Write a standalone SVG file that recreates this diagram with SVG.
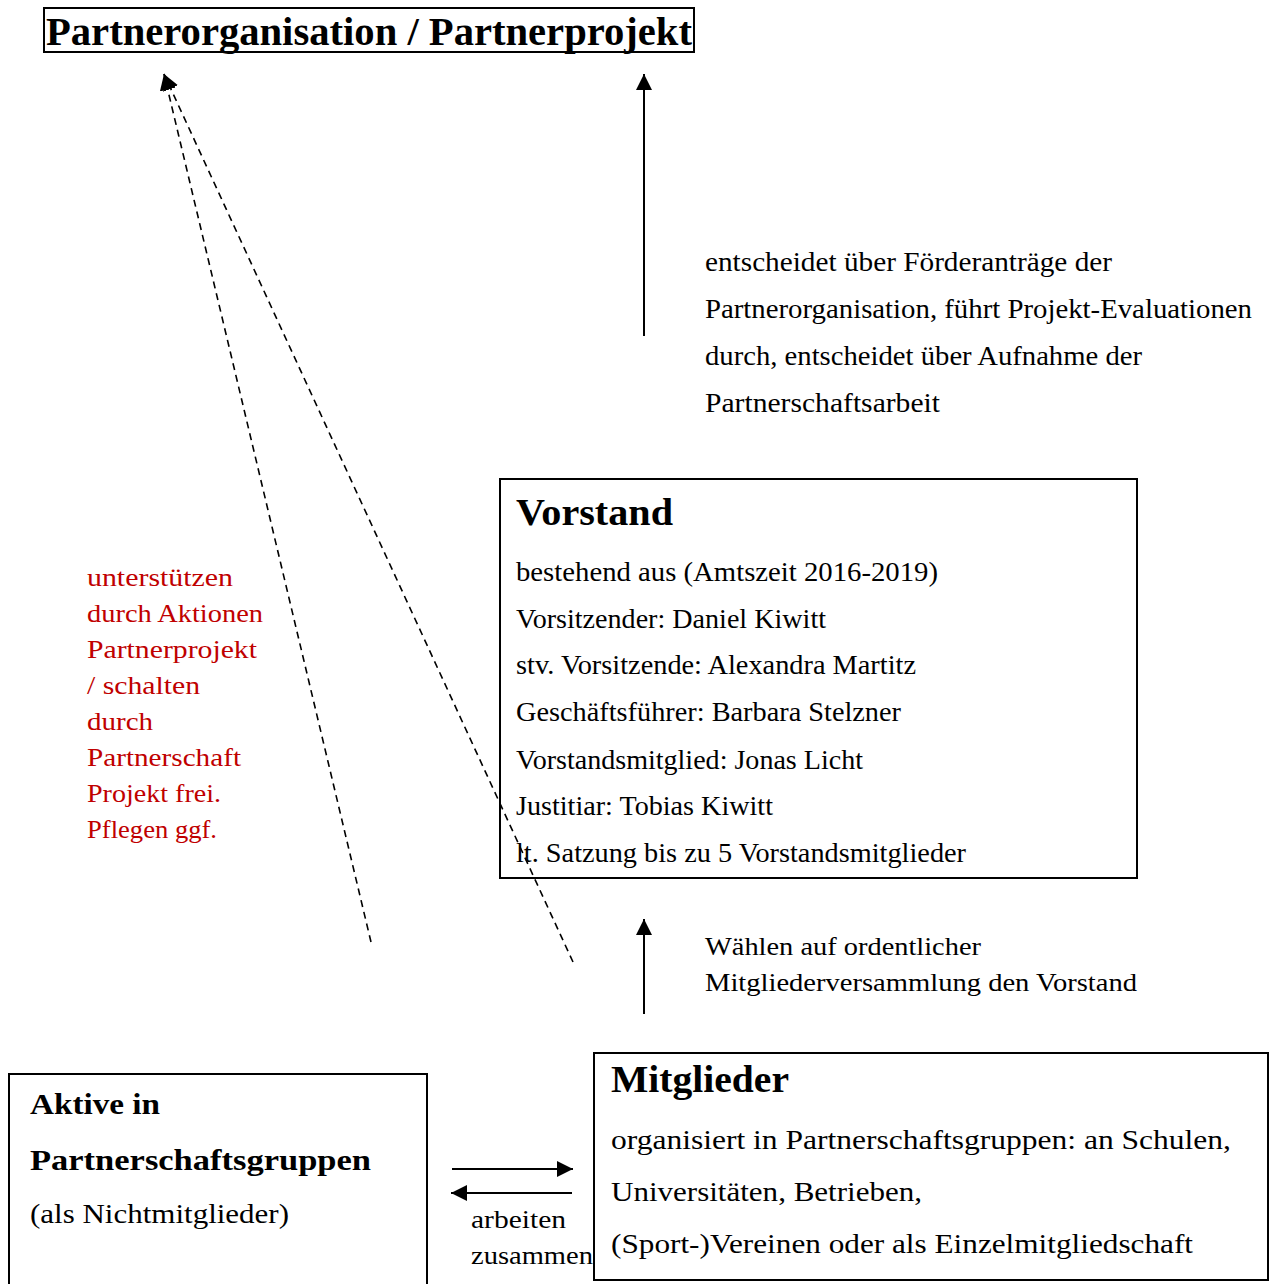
<svg xmlns="http://www.w3.org/2000/svg" width="1269" height="1284" viewBox="0 0 1269 1284">
<style>
  text { font-family: "Liberation Serif", "DejaVu Serif", serif; fill: #000; }
  .b { font-weight: bold; }
  .body { font-size: 27px; }
  .red { fill: #c00000; font-size: 25px; }
  .box { fill: #fff; stroke: #000; stroke-width: 2; }
  .solid { stroke: #000; stroke-width: 2; fill: none; }
  .dash { stroke: #000; stroke-width: 1.6; fill: none; stroke-dasharray: 7 5; }
</style>
<defs>
  <marker id="ah" markerUnits="userSpaceOnUse" markerWidth="18" markerHeight="16" refX="16" refY="8" orient="auto">
    <path d="M0,0 L16,8 L0,16 Z" fill="#000"/>
  </marker>
</defs>
<rect width="1269" height="1284" fill="#fff"/>

<g id="partnerorganisation">
  <rect class="box" x="44" y="8" width="650" height="44"/>
  <text class="b" x="46" y="45" font-size="40" textLength="646" lengthAdjust="spacingAndGlyphs">Partnerorganisation / Partnerprojekt</text>
</g>

<g id="label-entscheidet" class="body">
  <text x="705" y="271" textLength="407" lengthAdjust="spacingAndGlyphs">entscheidet über Förderanträge der</text>
  <text x="705" y="318" textLength="547" lengthAdjust="spacingAndGlyphs">Partnerorganisation, führt Projekt-Evaluationen</text>
  <text x="705" y="365" textLength="437" lengthAdjust="spacingAndGlyphs">durch, entscheidet über Aufnahme der</text>
  <text x="705" y="412" textLength="235" lengthAdjust="spacingAndGlyphs">Partnerschaftsarbeit</text>
</g>

<g id="label-unterstuetzen">
  <text class="red" x="87" y="586" textLength="146" lengthAdjust="spacingAndGlyphs">unterstützen</text>
  <text class="red" x="87" y="622" textLength="176" lengthAdjust="spacingAndGlyphs">durch Aktionen</text>
  <text class="red" x="87" y="658" textLength="170" lengthAdjust="spacingAndGlyphs">Partnerprojekt</text>
  <text class="red" x="87" y="694" textLength="113" lengthAdjust="spacingAndGlyphs">/ schalten</text>
  <text class="red" x="87" y="730" textLength="66" lengthAdjust="spacingAndGlyphs">durch</text>
  <text class="red" x="87" y="766" textLength="154" lengthAdjust="spacingAndGlyphs">Partnerschaft</text>
  <text class="red" x="87" y="802" textLength="134" lengthAdjust="spacingAndGlyphs">Projekt frei.</text>
  <text class="red" x="87" y="838" textLength="130" lengthAdjust="spacingAndGlyphs">Pflegen ggf.</text>
</g>

<g id="vorstand">
  <rect class="box" x="500" y="479" width="637" height="399"/>
  <text class="b" x="516" y="525" font-size="38" textLength="157" lengthAdjust="spacingAndGlyphs">Vorstand</text>
  <g class="body">
    <text x="516" y="581" textLength="422" lengthAdjust="spacingAndGlyphs">bestehend aus (Amtszeit 2016-2019)</text>
    <text x="516" y="628" textLength="310" lengthAdjust="spacingAndGlyphs">Vorsitzender: Daniel Kiwitt</text>
    <text x="516" y="674" textLength="400" lengthAdjust="spacingAndGlyphs">stv. Vorsitzende: Alexandra Martitz</text>
    <text x="516" y="721" textLength="385" lengthAdjust="spacingAndGlyphs">Geschäftsführer: Barbara Stelzner</text>
    <text x="516" y="769" textLength="347" lengthAdjust="spacingAndGlyphs">Vorstandsmitglied: Jonas Licht</text>
    <text x="516" y="815" textLength="257" lengthAdjust="spacingAndGlyphs">Justitiar: Tobias Kiwitt</text>
    <text x="516" y="862" textLength="450" lengthAdjust="spacingAndGlyphs">lt. Satzung bis zu 5 Vorstandsmitglieder</text>
  </g>
</g>

<g id="label-waehlen" font-size="25">
  <text x="705" y="955" textLength="276" lengthAdjust="spacingAndGlyphs">Wählen auf ordentlicher</text>
  <text x="705" y="991" textLength="432" lengthAdjust="spacingAndGlyphs">Mitgliederversammlung den Vorstand</text>
</g>

<g id="aktive">
  <rect class="box" x="9" y="1074" width="418" height="220"/>
  <text class="b" x="30" y="1114" font-size="30" textLength="130" lengthAdjust="spacingAndGlyphs">Aktive in</text>
  <text class="b" x="30" y="1170" font-size="30" textLength="341" lengthAdjust="spacingAndGlyphs">Partnerschaftsgruppen</text>
  <text class="body" x="30" y="1223" textLength="259" lengthAdjust="spacingAndGlyphs">(als Nichtmitglieder)</text>
</g>

<g id="label-arbeiten" font-size="25">
  <text x="471" y="1228" textLength="95" lengthAdjust="spacingAndGlyphs">arbeiten</text>
  <text x="471" y="1264" textLength="122" lengthAdjust="spacingAndGlyphs">zusammen</text>
</g>

<g id="mitglieder">
  <rect class="box" x="594" y="1053" width="674" height="227"/>
  <text class="b" x="611" y="1092" font-size="37" textLength="178" lengthAdjust="spacingAndGlyphs">Mitglieder</text>
  <text font-size="28" x="611" y="1149" textLength="620" lengthAdjust="spacingAndGlyphs">organisiert in Partnerschaftsgruppen: an Schulen,</text>
  <text font-size="28" x="611" y="1201" textLength="311" lengthAdjust="spacingAndGlyphs">Universitäten, Betrieben,</text>
  <text font-size="28" x="611" y="1253" textLength="582" lengthAdjust="spacingAndGlyphs">(Sport-)Vereinen oder als Einzelmitgliedschaft</text>
</g>

<g id="connectors">
  <line class="dash" x1="371" y1="942" x2="164" y2="74" marker-end="url(#ah)"/>
  <line class="dash" x1="573" y1="962" x2="164" y2="74" marker-end="url(#ah)"/>
  <line class="solid" x1="644" y1="336" x2="644" y2="74" marker-end="url(#ah)"/>
  <line class="solid" x1="644" y1="1014" x2="644" y2="919" marker-end="url(#ah)"/>
  <line class="solid" x1="452" y1="1169" x2="573" y2="1169" marker-end="url(#ah)"/>
  <line class="solid" x1="572" y1="1193" x2="451" y2="1193" marker-end="url(#ah)"/>
</g>
</svg>
